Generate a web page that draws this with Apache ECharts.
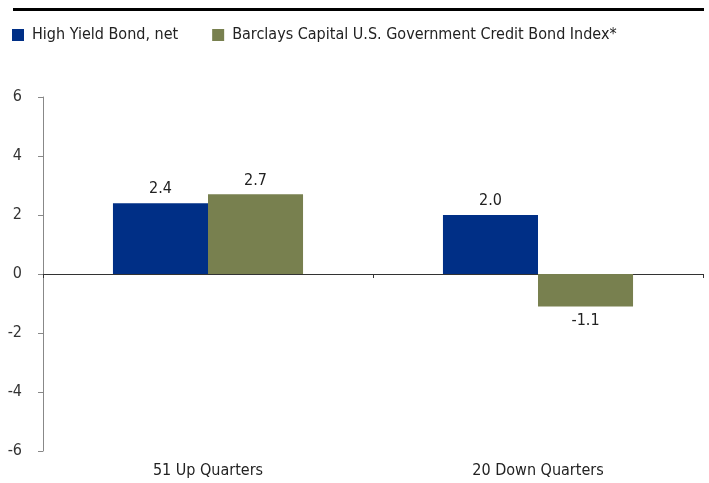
<!DOCTYPE html>
<html><head><meta charset="utf-8">
<script src="https://cdn.jsdelivr.net/npm/echarts@6/dist/echarts.min.js"></script>
<style>html,body{margin:0;padding:0;background:#fff}#c{width:709px;height:483px}</style>
</head><body><div id="c"></div>
<script>
const categories = ['51 Up Quarters', '20 Down Quarters'];
const seriesNames = ['High Yield Bond, net', 'Barclays Capital U.S. Government Credit Bond Index*'];
const highYield = [2.4, 2.0];
const barclays = [2.7, -1.1];
const yTicks = [-6, -4, -2, 0, 2, 4, 6];

const FONT = '"Liberation Sans Narrow", "DejaVu Sans Condensed", sans-serif';
const colors = ['#002F86', '#78804F'];

function mk(vals) {
  return vals.map(v => ({ value: v, label: { position: v < 0 ? 'bottom' : 'top' } }));
}

const chart = echarts.init(document.getElementById('c'), null, { renderer: 'canvas' });
chart.setOption({
  animation: false,
  textStyle: { fontFamily: FONT },
  legend: {
    left: 12, top: 27, padding: 0, itemWidth: 12, itemHeight: 12, itemGap: 34,
    icon: 'rect',
    textStyle: { fontFamily: FONT, fontSize: 16, color: '#222', padding: [0, 0, 0, 3] },
    data: seriesNames
  },
  graphic: [{
    type: 'rect', shape: { x: 13, y: 8, width: 691, height: 3 },
    style: { fill: '#000' }
  }],
  grid: { left: 43, right: 6, top: 97, bottom: 32 },
  xAxis: [{
    type: 'category', data: categories,
    axisLine: { onZero: true, lineStyle: { color: '#333', width: 1 } },
    axisTick: { show: true, length: 4, lineStyle: { color: '#333' } },
    axisLabel: { show: false }
  }, {
    type: 'category', data: categories, position: 'bottom',
    axisLine: { show: false, onZero: false }, axisTick: { show: false },
    axisLabel: { fontFamily: FONT, fontSize: 16, color: '#222', margin: 12 }
  }],
  yAxis: {
    type: 'value', min: yTicks[0], max: yTicks[yTicks.length - 1], interval: 2,
    axisLine: { show: true, lineStyle: { color: '#888' } },
    axisTick: { show: true, length: 5, lineStyle: { color: '#888' } },
    splitLine: { show: false },
    axisLabel: { fontFamily: FONT, fontSize: 16, color: '#333', margin: 21 }
  },
  series: [{
    name: seriesNames[0], type: 'bar', data: mk(highYield), xAxisIndex: 0,
    itemStyle: { color: colors[0] }, barGap: '0%', barCategoryGap: '42.4%',
    label: { show: true, distance: 6, fontFamily: FONT, fontSize: 16, color: '#222',
      formatter: p => p.value.toFixed(1) }
  }, {
    name: seriesNames[1], type: 'bar', data: mk(barclays), xAxisIndex: 0,
    itemStyle: { color: colors[1] }, barGap: '0%', barCategoryGap: '42.4%',
    label: { show: true, distance: 6, fontFamily: FONT, fontSize: 16, color: '#222',
      formatter: p => p.value.toFixed(1) }
  }]
});
</script></body></html>
